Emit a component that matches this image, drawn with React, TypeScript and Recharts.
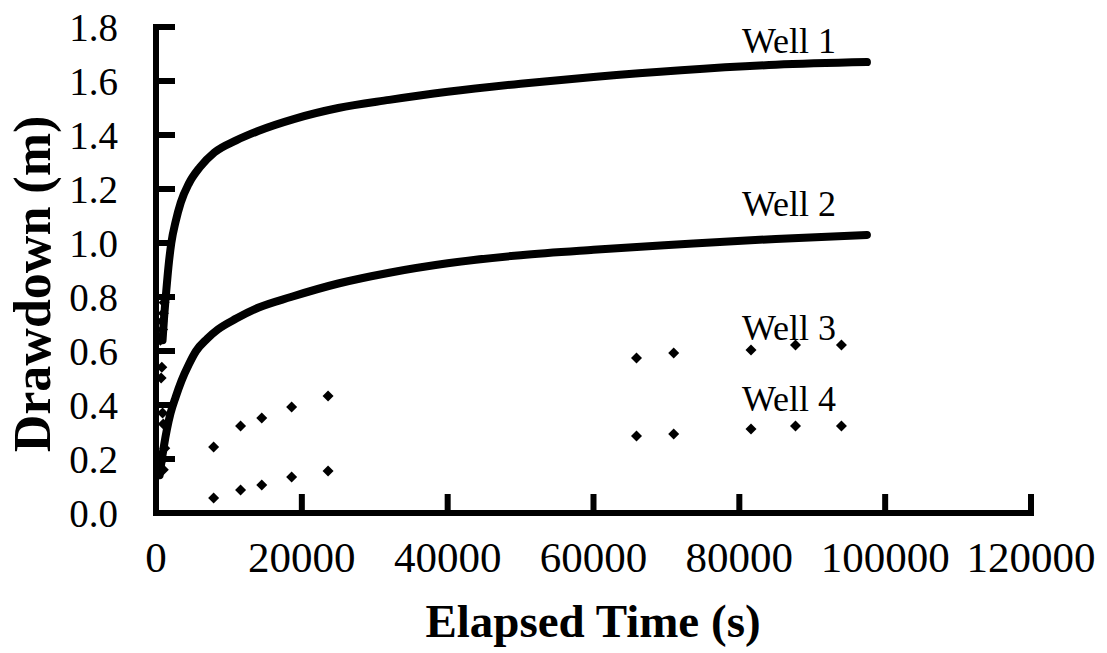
import React from "react";
import {
  ComposedChart,
  Line,
  Scatter,
  XAxis,
  YAxis,
  Label,
  ReferenceDot,
  ReferenceLine,
} from "recharts";

// elapsed time (s) / drawdown (m)
const well1 = [
  { t: 900, s: 0.64 },
  { t: 1100, s: 0.72 },
  { t: 1400, s: 0.82 },
  { t: 1700, s: 0.91 },
  { t: 2100, s: 1.0 },
  { t: 2700, s: 1.08 },
  { t: 3400, s: 1.15 },
  { t: 4500, s: 1.22 },
  { t: 6000, s: 1.28 },
  { t: 8000, s: 1.335 },
  { t: 11000, s: 1.38 },
  { t: 14000, s: 1.415 },
  { t: 19000, s: 1.46 },
  { t: 25000, s: 1.5 },
  { t: 32000, s: 1.53 },
  { t: 40000, s: 1.56 },
  { t: 50000, s: 1.59 },
  { t: 60000, s: 1.615 },
  { t: 72000, s: 1.64 },
  { t: 85000, s: 1.66 },
  { t: 97500, s: 1.67 },
];

const well1Early = [
  { t: 700, s: 0.5 },
  { t: 800, s: 0.54 },
  { t: 600, s: 0.64 },
  { t: 900, s: 0.68 },
  { t: 800, s: 0.71 },
  { t: 1000, s: 0.74 },
  { t: 1100, s: 0.78 },
];

const well2 = [
  { t: 500, s: 0.14 },
  { t: 700, s: 0.18 },
  { t: 1100, s: 0.25 },
  { t: 1500, s: 0.31 },
  { t: 2000, s: 0.37 },
  { t: 2700, s: 0.43 },
  { t: 3500, s: 0.49 },
  { t: 4500, s: 0.55 },
  { t: 5500, s: 0.6 },
  { t: 7000, s: 0.645 },
  { t: 8500, s: 0.68 },
  { t: 11000, s: 0.72 },
  { t: 14000, s: 0.76 },
  { t: 18500, s: 0.8 },
  { t: 25000, s: 0.85 },
  { t: 32000, s: 0.89 },
  { t: 40000, s: 0.925 },
  { t: 50000, s: 0.955 },
  { t: 60000, s: 0.975 },
  { t: 72000, s: 0.995 },
  { t: 85000, s: 1.015 },
  { t: 97500, s: 1.03 },
];

const well3 = [
  { t: 900, s: 0.37 },
  { t: 1000, s: 0.33 },
  { t: 7900, s: 0.244 },
  { t: 11600, s: 0.322 },
  { t: 14500, s: 0.352 },
  { t: 18600, s: 0.393 },
  { t: 23600, s: 0.433 },
  { t: 65900, s: 0.574 },
  { t: 71000, s: 0.593 },
  { t: 81600, s: 0.604 },
  { t: 87700, s: 0.622 },
  { t: 94000, s: 0.622 },
];

const well4 = [
  { t: 1200, s: 0.24 },
  { t: 1000, s: 0.2 },
  { t: 1000, s: 0.16 },
  { t: 7900, s: 0.056 },
  { t: 11600, s: 0.085 },
  { t: 14500, s: 0.104 },
  { t: 18600, s: 0.133 },
  { t: 23600, s: 0.156 },
  { t: 65900, s: 0.285 },
  { t: 71000, s: 0.293 },
  { t: 81600, s: 0.311 },
  { t: 87700, s: 0.322 },
  { t: 94000, s: 0.322 },
];

const xTicks = [0, 20000, 40000, 60000, 80000, 100000, 120000];
const yTicks = [0, 0.2, 0.4, 0.6, 0.8, 1.0, 1.2, 1.4, 1.6, 1.8];

const wellLabels = [
  { name: "Well 1", t: 86800, s: 1.752 },
  { name: "Well 2", t: 86800, s: 1.148 },
  { name: "Well 3", t: 86800, s: 0.689 },
  { name: "Well 4", t: 86800, s: 0.426 },
];

const FONT = "'Liberation Serif', 'Times New Roman', serif";

// plot box edges in px (used only to draw the inward tick marks)
const PLOT_LEFT = 156;
const PLOT_BOTTOM = 513;
const TICK_LEN = 19;

const Diamond = (props: any) => {
  const { cx, cy } = props;
  if (cx == null || cy == null) return null;
  const r = 5.5;
  return (
    <path
      d={`M${cx},${cy - r}L${cx + r},${cy}L${cx},${cy + r}L${cx - r},${cy}Z`}
      fill="#000"
    />
  );
};

const XTick = (props: any) => {
  const { x, payload } = props;
  return (
    <g>
      <rect x={x - 3} y={PLOT_BOTTOM - TICK_LEN} width={6} height={TICK_LEN} fill="#000" />
      <text
        x={x}
        y={572}
        textAnchor="middle"
        fontFamily={FONT}
        fontSize={43}
        fill="#000"
      >
        {payload.value}
      </text>
    </g>
  );
};

const YTick = (props: any) => {
  const { y, payload } = props;
  return (
    <g>
      <rect x={PLOT_LEFT} y={y - 3} width={TICK_LEN} height={6} fill="#000" />
      <text
        x={118}
        y={y + 14}
        textAnchor="end"
        fontFamily={FONT}
        fontSize={39}
        fill="#000"
      >
        {Number(payload.value).toFixed(1)}
      </text>
    </g>
  );
};

export default function App() {
  return (
    <div style={{ position: "absolute", left: 0, top: 0, background: "#fff", fontFamily: FONT }}>
      <ComposedChart
        width={1107}
        height={653}
        margin={{ top: 27, right: 76, bottom: 80, left: 0 }}
      >
        <XAxis
          type="number"
          dataKey="t"
          domain={[0, 120000]}
          ticks={xTicks}
          interval={0}
          height={60}
          axisLine={false}
          tickLine={false}
          tick={<XTick />}
        >
          <Label
            content={() => (
              <text
                x={593}
                y={637}
                textAnchor="middle"
                fontFamily={FONT}
                fontWeight="bold"
                fontSize={47}
                fill="#000"
              >
                Elapsed Time (s)
              </text>
            )}
          />
        </XAxis>
        <YAxis
          type="number"
          dataKey="s"
          domain={[0, 1.8]}
          ticks={yTicks}
          interval={0}
          width={156}
          axisLine={false}
          tickLine={false}
          tick={<YTick />}
        >
          <Label
            content={() => (
              <text
                x={50}
                y={284}
                transform="rotate(-90 50 284)"
                textAnchor="middle"
                fontFamily={FONT}
                fontWeight="bold"
                fontSize={52}
                fill="#000"
              >
                Drawdown (m)
              </text>
            )}
          />
        </YAxis>

        <ReferenceLine x={0} stroke="#000" strokeWidth={6} strokeLinecap="square" />
        <ReferenceLine y={0} stroke="#000" strokeWidth={6} strokeLinecap="square" />

        <Line
          data={well1}
          dataKey="s"
          type="monotone"
          stroke="#000"
          strokeWidth={8}
          strokeLinecap="round"
          dot={false}
          isAnimationActive={false}
        />
        <Line
          data={well2}
          dataKey="s"
          type="monotone"
          stroke="#000"
          strokeWidth={8}
          strokeLinecap="round"
          dot={false}
          isAnimationActive={false}
        />
        <Scatter data={well1Early} dataKey="s" shape={<Diamond />} isAnimationActive={false} />
        <Scatter data={well3} dataKey="s" shape={<Diamond />} isAnimationActive={false} />
        <Scatter data={well4} dataKey="s" shape={<Diamond />} isAnimationActive={false} />

        {wellLabels.map((w) => (
          <ReferenceDot
            key={w.name}
            x={w.t}
            y={w.s}
            r={0}
            stroke="none"
            fill="none"
            label={{
              value: w.name,
              position: "center",
              fill: "#000",
              fontSize: 36,
              fontFamily: FONT,
            }}
          />
        ))}
      </ComposedChart>
    </div>
  );
}
